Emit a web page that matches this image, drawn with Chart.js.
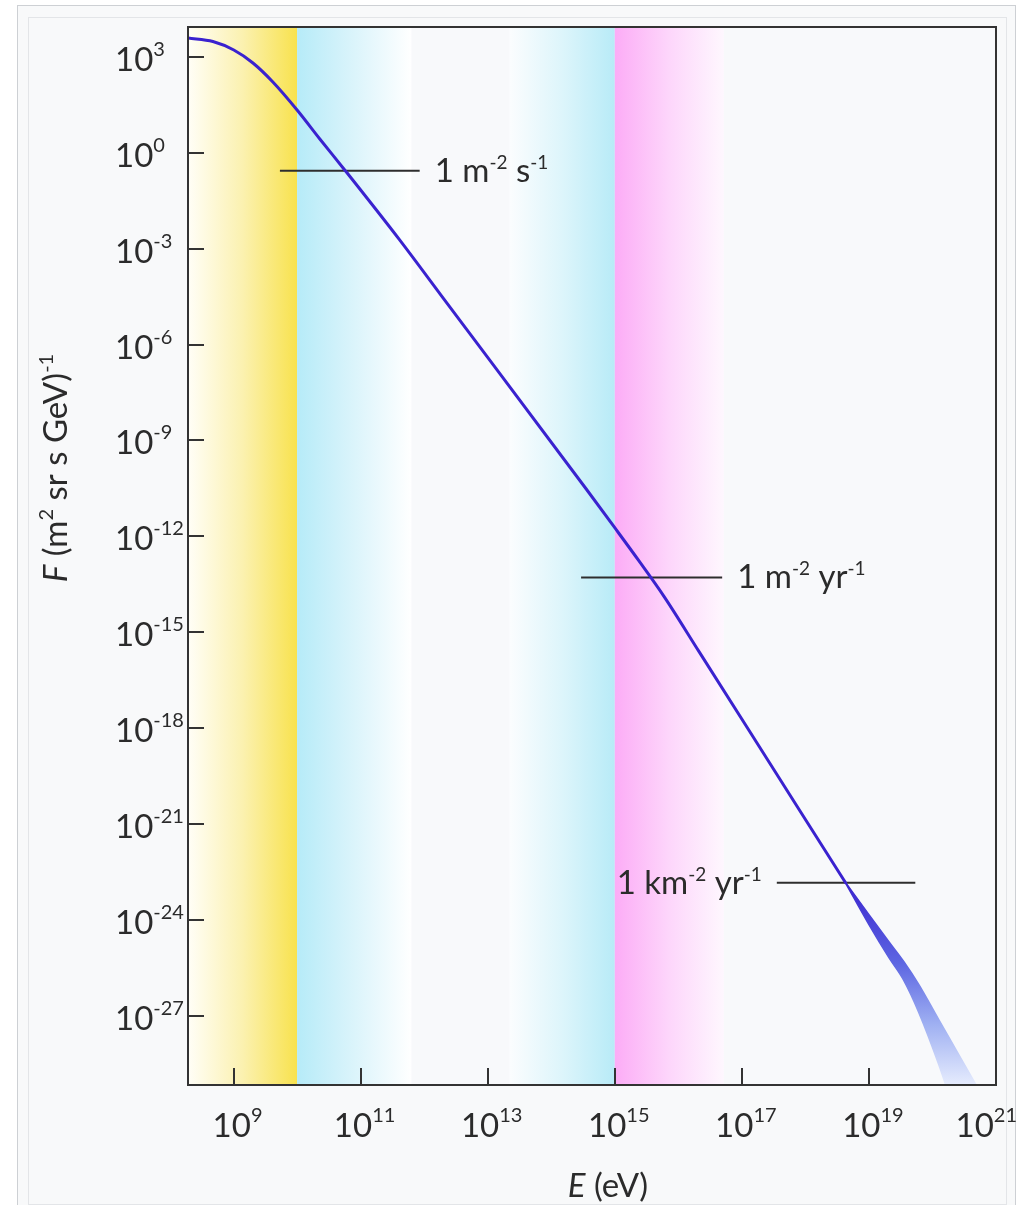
<!DOCTYPE html>
<html>
<head>
<meta charset="utf-8">
<script src="https://cdn.jsdelivr.net/npm/chart.js@4.4.1/dist/chart.umd.min.js"></script>
<style>
  html, body { margin: 0; background: #fff; }
  #wrap { position: relative; width: 1021px; height: 1205px; overflow: hidden; }
  .frame { position: absolute; box-sizing: border-box; }
  #outer { left: 17px; top: 5px; width: 999px; height: 1230px; border: 1px solid #cdd0d4; background: #f8f9fa; }
  #inner { left: 28px; top: 17px; width: 979px; height: 1188px; border: 1px solid #e3e5e8; }
  canvas { position: absolute; left: 0; top: 0; }
</style>
</head>
<body>
<div id="wrap">
  <div id="outer" class="frame"></div>
  <div id="inner" class="frame"></div>
  <canvas id="spectrum" width="1021" height="1205"></canvas>
</div>
<script>
// all-particle cosmic ray spectrum: E in eV, F in (m^2 sr s GeV)^-1
const energy = [1.92e8, 4.74e8, 1.01e9, 2.02e9, 4.16e9, 1.03e10, 2.28e10, 5.62e10, 4.11e11, 2.09e12,
                3.53e14, 9.47e14, 2.42e15, 5.98e15, 2.12e16, 1.30e17, 7.91e17, 4.29e18];
const flux = [3.84e3, 2.99e3, 1.62e3, 6.35e2, 1.62e2, 2.01e1, 2.68, 2.88e-1, 1.87e-3, 2.49e-5,
              3.09e-11, 2.16e-12, 1.68e-13, 1.31e-14, 2.49e-16, 8.48e-19, 2.94e-21, 1.48e-23];

// highest energies: spread between upper and lower estimates
const tailEnergy = [4.29e18, 9.95e18, 2.05e19, 3.53e19, 6.08e19, 1.25e20, 2.58e20, 5.32e20];
const tailUpper = [1.52e-23, 1.51e-24, 2.16e-25, 5.12e-26, 9.8e-27, 7.9e-28, 6.4e-29, 5.1e-30];
const tailLower = [1.44e-23, 7.35e-25, 6.82e-26, 1.31e-26, 1.31e-27, 3.1e-29, 4.1e-31, 5.5e-33];

// rate marks
const rateFlux = [2.7e-1, 5.2e-14, 1.48e-23];
const rateFrom = [5.37e9, 2.95e14, 3.55e17];
const rateTo = [8.5e11, 4.9e16, 5.37e19];
const rateLabels = ['1 m^{-2} s^{-1}', '1 m^{-2} yr^{-1}', '1 km^{-2} yr^{-1}'];
const rateSide = ['right', 'right', 'left'];

// shaded energy ranges
const bandFrom = [1.92e8, 1e10, 2.2e13, 1e15];
const bandTo = [1e10, 6.3e11, 1e15, 5.2e16];

const xTickPowers = [9, 11, 13, 15, 17, 19, 21];
const yTickPowers = [3, 0, -3, -6, -9, -12, -15, -18, -21, -24, -27];

const bandStops = [
  ['#fffef7', '#fbf1b0', '#f8e24e'],
  ['#b6ebf8', '#dbf4fb', '#ffffff'],
  ['#fbfdfe', '#ddf5fb', '#b8ebf7'],
  ['#fcacf6', '#fdd6fb', '#fef7fe']
];

const FAMILY = 'Lato, "Open Sans", sans-serif';
const ink = '#333';

function splitRich(s) {
  return s.split(/(\^\{[^}]*\}|\*[^*]*\*)/).filter(Boolean).map(p => {
    if (p.startsWith('^{')) return {t: p.slice(2, -1), sup: true};
    if (p.startsWith('*')) return {t: p.slice(1, -1), it: true};
    return {t: p};
  });
}

function fontOf(p, f) {
  return (p.it ? 'italic ' : '') + (p.sup ? f.sup : f.size) + 'px ' + FAMILY;
}

function richWidth(ctx, s, f) {
  let w = 0;
  splitRich(s).forEach(p => { ctx.font = fontOf(p, f); w += ctx.measureText(p.t).width; });
  return w;
}

function drawRich(ctx, s, x, y, f, align) {
  const w = richWidth(ctx, s, f);
  let cx = align === 'right' ? x - w : align === 'center' ? x - w / 2 : x;
  ctx.textAlign = 'left';
  ctx.textBaseline = 'alphabetic';
  splitRich(s).forEach(p => {
    ctx.font = fontOf(p, f);
    ctx.fillText(p.t, cx, p.sup ? y - f.rise : y);
    cx += ctx.measureText(p.t).width;
  });
}

const decor = {
  id: 'decor',
  beforeDraw(chart) {
    const {ctx, chartArea: a, scales: {x}} = chart;
    ctx.save();
    ctx.fillStyle = '#f8f9fb';
    ctx.fillRect(a.left, a.top, a.width, a.height);
    bandFrom.forEach((e0, i) => {
      const x0 = x.getPixelForValue(e0), x1 = x.getPixelForValue(bandTo[i]);
      const g = ctx.createLinearGradient(x0, 0, x1, 0);
      bandStops[i].forEach((c, k, arr) => g.addColorStop(k / (arr.length - 1), c));
      ctx.fillStyle = g;
      ctx.fillRect(x0, a.top, x1 - x0, a.height);
    });
    ctx.restore();
  },
  afterDraw(chart) {
    const {ctx, chartArea: a, scales: {x, y}} = chart;
    ctx.save();
    ctx.fillStyle = '#2b2b2b';

    // rate labels next to their marks
    const lab = {size: 33, sup: 19, rise: 13};
    rateLabels.forEach((s, i) => {
      const py = y.getPixelForValue(rateFlux[i]) + 11;
      if (rateSide[i] === 'right') drawRich(ctx, s, x.getPixelForValue(rateTo[i]) + 15, py, lab, 'left');
      else drawRich(ctx, s, x.getPixelForValue(rateFrom[i]) - 15, py, lab, 'right');
    });

    // frame and inward ticks
    ctx.strokeStyle = ink;
    ctx.lineWidth = 2;
    ctx.strokeRect(a.left, a.top, a.width, a.height);
    ctx.beginPath();
    y.ticks.forEach(t => {
      const py = Math.round(y.getPixelForValue(t.value));
      ctx.moveTo(a.left, py);
      ctx.lineTo(a.left + 16, py);
    });
    x.ticks.forEach(t => {
      const px = Math.round(x.getPixelForValue(t.value));
      ctx.moveTo(px, a.bottom);
      ctx.lineTo(px, a.bottom - 17);
    });
    ctx.stroke();

    // tick labels
    const tk = {size: 33, sup: 20, rise: 15};
    yTickPowers.forEach(p => {
      const py = y.getPixelForValue(10 ** p);
      drawRich(ctx, '10^{' + p + '}', 115, py + 14, tk, 'left');
    });
    xTickPowers.forEach(p => {
      const s = '10^{' + p + '}';
      const w = richWidth(ctx, s, tk);
      const left = Math.min(x.getPixelForValue(10 ** p) + 4 - w / 2, chart.width - 4 - w);
      drawRich(ctx, s, left, a.bottom + 52, tk, 'left');
    });

    // axis titles
    const tt = {size: 33, sup: 20, rise: 14};
    drawRich(ctx, '*E* (eV)', (a.left + a.right) / 2 + 16, a.bottom + 112, tt, 'center');
    ctx.translate(67, 468);
    ctx.rotate(-Math.PI / 2);
    drawRich(ctx, '*F* (m^{2} sr s GeV)^{-1}', 0, 0, tt, 'center');
    ctx.restore();
  }
};

function tailFill(c) {
  const chart = c.chart, a = chart.chartArea;
  if (!a) return 'rgba(0,0,0,0)';
  const y0 = chart.scales.y.getPixelForValue(tailUpper[0]);
  const g = chart.ctx.createLinearGradient(0, y0, 0, a.bottom);
  g.addColorStop(0, '#3a24cf');
  g.addColorStop(0.4, '#5d66e2');
  g.addColorStop(0.7, '#9fb0f2');
  g.addColorStop(1, '#e6ecfd');
  return g;
}

const points = (xs, ys) => xs.map((v, i) => ({x: v, y: ys[i]}));

const datasets = [
  {data: points(energy, flux), borderColor: '#3a22cf', borderWidth: 3, borderCapStyle: 'round'},
  {data: points(tailEnergy, tailUpper), borderColor: tailFill, backgroundColor: tailFill, borderWidth: 1.5, fill: false},
  {data: points(tailEnergy, tailLower), borderColor: tailFill, backgroundColor: tailFill, borderWidth: 1.5, fill: '-1'}
];
rateFlux.forEach((f, i) => {
  datasets.push({data: [{x: rateFrom[i], y: f}, {x: rateTo[i], y: f}], borderColor: '#2e2e2e', borderWidth: 2});
});

new Chart(document.getElementById('spectrum'), {
  type: 'line',
  data: {datasets: datasets},
  options: {
    responsive: false,
    animation: false,
    devicePixelRatio: 1,
    layout: {padding: {left: 188, top: 27, right: 25, bottom: 120}},
    elements: {
      point: {radius: 0},
      line: {cubicInterpolationMode: 'monotone', fill: false}
    },
    plugins: {legend: {display: false}, tooltip: {enabled: false}},
    scales: {
      x: {
        type: 'logarithmic', min: 1.92e8, max: 1e21,
        ticks: {display: false}, grid: {display: false, drawTicks: false}, border: {display: false},
        afterBuildTicks: s => { s.ticks = xTickPowers.map(p => ({value: 10 ** p})); }
      },
      y: {
        type: 'logarithmic', min: 7.4e-30, max: 8.5e3,
        ticks: {display: false}, grid: {display: false, drawTicks: false}, border: {display: false},
        afterBuildTicks: s => { s.ticks = yTickPowers.map(p => ({value: 10 ** p})); }
      }
    }
  },
  plugins: [decor]
});
</script>
</body>
</html>
